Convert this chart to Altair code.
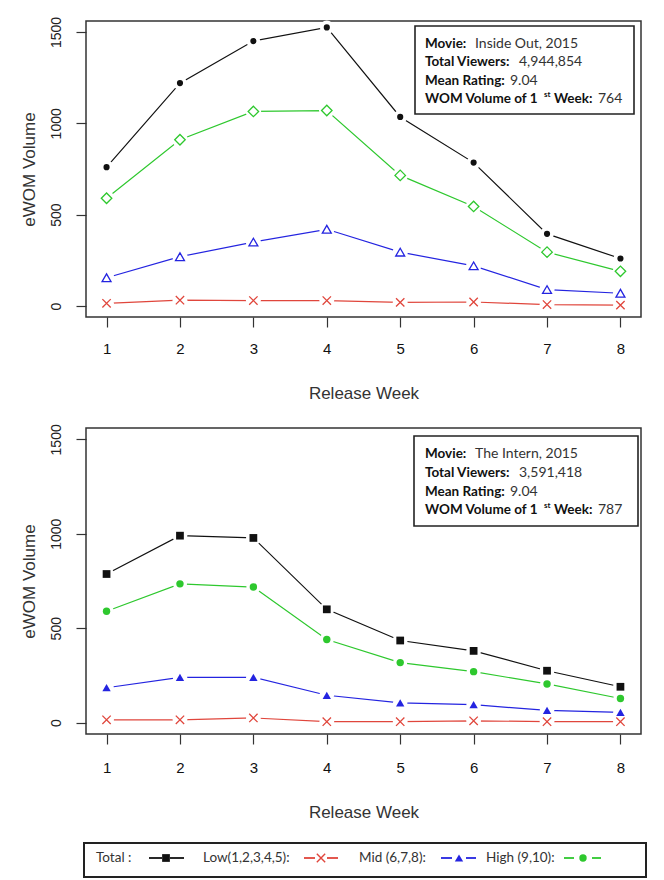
import altair as alt
import pandas as pd

# ---------------- data ----------------
weeks = [1, 2, 3, 4, 5, 6, 7, 8]

io_total = [760, 1220, 1450, 1525, 1035, 785, 395, 260]
io_low = [15, 32, 30, 30, 20, 22, 8, 5]
io_mid = [155, 270, 350, 420, 295, 220, 90, 70]
io_high = [590, 910, 1065, 1070, 715, 545, 295, 190]

in_total = [787, 990, 978, 600, 435, 380, 275, 190]
in_low = [15, 15, 25, 5, 5, 10, 5, 5]
in_mid = [185, 240, 240, 145, 105, 95, 65, 55]
in_high = [590, 735, 718, 440, 318, 270, 205, 128]

y_ticks = [0, 500, 1000, 1500]
x_ticks = weeks

info_labels = ["Movie:", "Total Viewers:", "Mean Rating:", "WOM Volume of 1"]
io_info = ["Inside Out, 2015", "4,944,854", "9.04", "764"]
in_info = ["The Intern, 2015", "3,591,418", "9.04", "787"]

legend_labels = ["Total :", "Low(1,2,3,4,5):", "Mid (6,7,8):", "High (9,10):"]

# ---------------- styles ----------------
BLACK = "#111111"
RED = "#e0463c"
BLUE = "#2424e0"
GREEN = "#2ec82e"
XPATH = "M-1,-1L1,1M-1,1L1,-1"
AXFONT = "Liberation Sans"
INFOFONT = "Lato"
LABSIZE = 13.5
VALSIZE = 14

W = 555


def axes(h, lab_pad):
    xs = alt.X(
        "week:Q",
        scale=alt.Scale(domain=[0.72, 8.28], nice=False, zero=False),
        axis=alt.Axis(values=x_ticks, title="Release Week", format="d",
                      tickSize=10, labelPadding=lab_pad, titlePadding=29,
                      labelFontSize=15, titleFontSize=17, labelColor="#111111"),
    )
    ys = alt.Y(
        "value:Q",
        scale=alt.Scale(domain=[-60, 1560], nice=False, zero=False),
        axis=alt.Axis(values=y_ticks, title="eWOM Volume", labelAngle=270, format="d",
                      labelAlign="center", labelBaseline="middle",
                      tickSize=10, labelPadding=20, titlePadding=11,
                      labelFontSize=14, titleFontSize=17),
    )
    return xs, ys


def panel(series, styles, info_vals, h, box, line_y, text_x, lab_pad):
    xs, ys = axes(h, lab_pad)
    layers = []
    frames = {}
    for name, vals in series:
        frames[name] = pd.DataFrame({"week": weeks, "value": vals, "series": name})
    # lines
    for name, st in styles.items():
        layers.append(
            alt.Chart(frames[name]).mark_line(color=st["color"], strokeWidth=1.2)
            .encode(x=xs, y=ys)
        )
    # gaps around points (R type="b")
    for name, st in styles.items():
        layers.append(
            alt.Chart(frames[name]).mark_point(filled=True, color="white", opacity=1,
                                               size=st.get("gap", 200), shape="circle")
            .encode(x=xs, y=ys)
        )
    # markers
    for name, st in styles.items():
        kw = dict(shape=st["shape"], size=st["size"], opacity=1)
        if st["filled"]:
            mk = alt.Chart(frames[name]).mark_point(filled=True, color=st["color"], **kw)
        else:
            mk = alt.Chart(frames[name]).mark_point(filled=False, color=st["color"],
                                                    strokeWidth=1.3, **kw)
        layers.append(mk.encode(x=xs, y=ys))

    # info box
    one = pd.DataFrame({"a": [0]})
    layers.append(
        alt.Chart(one).mark_rect(fill="white", stroke="#222222", strokeWidth=1.6)
        .encode(x=alt.value(box[0]), x2=alt.value(box[1]),
                y=alt.value(box[2]), y2=alt.value(box[3]))
    )
    lab_df = pd.DataFrame({"t": info_labels, "py": line_y})
    layers.append(
        alt.Chart(lab_df).mark_text(align="left", baseline="middle", font=INFOFONT,
                                    fontSize=LABSIZE, fontWeight="bold", color="#111111")
        .encode(x=alt.value(text_x), y=alt.Y("py:Q", scale=None), text="t:N")
    )
    val_x = [text_x + 50, text_x + 94, text_x + 85, text_x + 173]
    val_df = pd.DataFrame({"t": info_vals, "px": val_x, "py": line_y})
    layers.append(
        alt.Chart(val_df).mark_text(align="left", baseline="middle", font=INFOFONT,
                                    fontSize=VALSIZE, color="#333333")
        .encode(x=alt.X("px:Q", scale=None), y=alt.Y("py:Q", scale=None), text="t:N")
    )
    extra_df = pd.DataFrame({"t": ["st"], "px": [text_x + 119], "py": [line_y[3] - 4]})
    layers.append(
        alt.Chart(extra_df).mark_text(align="left", baseline="middle", font=INFOFONT,
                                      fontSize=8, fontWeight="bold", color="#111111")
        .encode(x=alt.X("px:Q", scale=None), y=alt.Y("py:Q", scale=None), text="t:N")
    )
    wk_df = pd.DataFrame({"t": ["Week:"], "px": [text_x + 129], "py": [line_y[3]]})
    layers.append(
        alt.Chart(wk_df).mark_text(align="left", baseline="middle", font=INFOFONT,
                                   fontSize=LABSIZE, fontWeight="bold", color="#111111")
        .encode(x=alt.X("px:Q", scale=None), y=alt.Y("py:Q", scale=None), text="t:N")
    )
    return layers


top_styles = {
    "Total": dict(color=BLACK, shape="circle", size=38, filled=True, gap=190),
    "Low": dict(color=RED, shape=XPATH, size=70, filled=False, gap=220),
    "Mid": dict(color=BLUE, shape="triangle-up", size=80, filled=False, gap=230),
    "High": dict(color=GREEN, shape="diamond", size=110, filled=False, gap=240),
}
bot_styles = {
    "Total": dict(color=BLACK, shape="square", size=60, filled=True, gap=220),
    "Low": dict(color=RED, shape=XPATH, size=70, filled=False, gap=220),
    "Mid": dict(color=BLUE, shape="triangle-up", size=70, filled=True, gap=210),
    "High": dict(color=GREEN, shape="circle", size=55, filled=True, gap=200),
}

H1, H2 = 296, 306

top_layers = panel(
    [("Total", io_total), ("Low", io_low), ("Mid", io_mid), ("High", io_high)],
    top_styles, io_info, H1, (329, 548, 5, 93), [23, 41, 60, 78], 339, 14,
)
bot_layers = panel(
    [("Total", in_total), ("Low", in_low), ("Mid", in_mid), ("High", in_high)],
    bot_styles, in_info, H2, (328, 552, 8, 98), [26, 45, 64, 82], 339, 16,
)

# ---------------- legend (drawn below the bottom panel) ----------------
LY0, LY1, LTY = 415, 449, 430
leg_box = pd.DataFrame({"a": [0]})
bot_layers.append(
    alt.Chart(leg_box).mark_rect(fill="white", stroke="#222222", strokeWidth=2)
    .encode(x=alt.value(-2), x2=alt.value(560), y=alt.value(LY0), y2=alt.value(LY1))
)
leg_text = pd.DataFrame({"t": legend_labels, "px": [10, 117, 273, 400], "py": [LTY] * 4})
bot_layers.append(
    alt.Chart(leg_text).mark_text(align="left", baseline="middle", font=INFOFONT,
                                  fontSize=13.5, color="#333333")
    .encode(x=alt.X("px:Q", scale=None), y=alt.Y("py:Q", scale=None), text="t:N")
)
leg_items = [
    ("Total", 63, 76, 84, 98, 80),
    ("Low", 218, 229, 241, 252, 235),
    ("Mid", 355, 366, 380, 390, 373),
    ("High", 478, 488, 506, 515, 497),
]
for name, a1, a2, b1, b2, m in leg_items:
    st = bot_styles[name]
    segs = pd.DataFrame({"x1": [a1, b1], "x2": [a2, b2], "py": [LTY, LTY]})
    bot_layers.append(
        alt.Chart(segs).mark_rule(color=st["color"], strokeWidth=1.8)
        .encode(x=alt.X("x1:Q", scale=None), x2="x2:Q", y=alt.Y("py:Q", scale=None))
    )
    pt = pd.DataFrame({"px": [m], "py": [LTY]})
    if st["filled"]:
        mk = alt.Chart(pt).mark_point(filled=True, color=st["color"], shape=st["shape"],
                                      size=st["size"], opacity=1)
    else:
        mk = alt.Chart(pt).mark_point(filled=False, color=st["color"], shape=st["shape"],
                                      size=st["size"], strokeWidth=1.4, opacity=1)
    bot_layers.append(mk.encode(x=alt.X("px:Q", scale=None), y=alt.Y("py:Q", scale=None)))

top = alt.layer(*top_layers).properties(width=W, height=H1)
bot = alt.layer(*bot_layers).properties(width=W, height=H2)

chart = (
    alt.vconcat(top, bot, spacing=21)
    .resolve_scale(x="independent", y="independent")
    .properties(padding={"top": 7, "left": 11, "right": 5, "bottom": 0})
    .configure_view(stroke="#333333", strokeWidth=1.5)
    .configure_axis(grid=False, domain=False, tickColor="#333333", tickWidth=1.2,
                    labelFont=AXFONT, titleFont=AXFONT, labelColor="#222222",
                    titleColor="#333333", titleFontWeight="normal")
)

chart.save("out.html", embed_options={"renderer": "svg", "actions": False})
